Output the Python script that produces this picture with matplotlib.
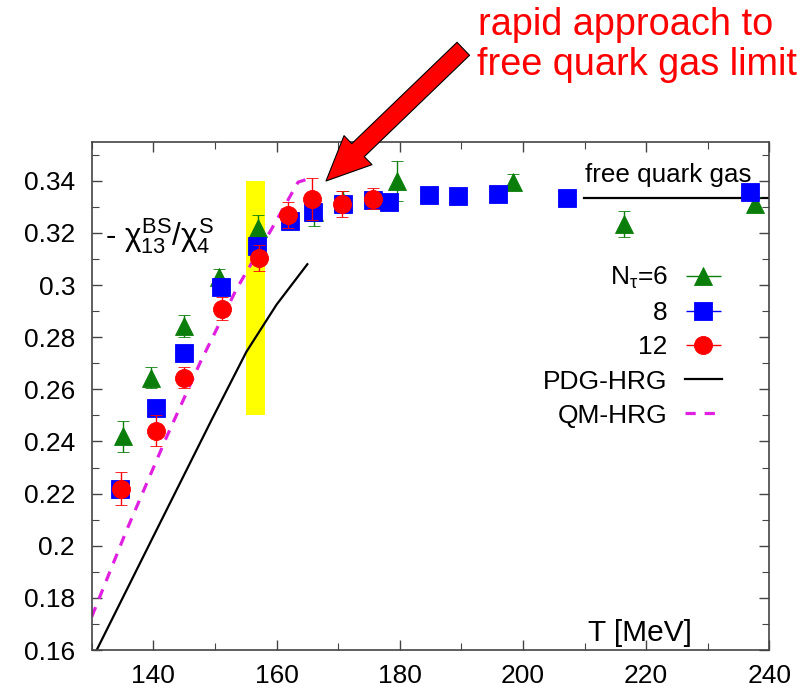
import matplotlib
matplotlib.use("Agg")
import matplotlib.pyplot as plt
from matplotlib.patches import FancyArrowPatch
from matplotlib.container import ErrorbarContainer
from matplotlib.legend_handler import HandlerErrorbar
from matplotlib.ticker import MultipleLocator

plt.rcParams["font.family"] = ["Liberation Sans", "DejaVu Sans"]
plt.rcParams["mathtext.fontset"] = "custom"
plt.rcParams["mathtext.rm"] = "Liberation Sans"
plt.rcParams["mathtext.it"] = "Liberation Sans"
plt.rcParams["mathtext.bf"] = "Liberation Sans:bold"

# N_tau = 6 (green triangles)
T6 = [135.1, 139.6, 145.0, 150.7, 157.0, 166.0, 170.8, 179.5, 198.4, 216.4, 237.7]
y6 = [0.242, 0.2645, 0.2844, 0.303, 0.322, 0.328, 0.332, 0.340, 0.3395, 0.3235, 0.3312]
e6 = [0.006, 0.004, 0.0043, 0.003, 0.005, 0.0055, 0.004, 0.0077, 0.003, 0.005, 0.0025]

# N_tau = 8 (blue squares)
T8 = [134.6, 140.5, 144.9, 150.9, 156.8, 162.2, 165.9, 170.8, 175.7, 178.3,
      184.7, 189.4, 195.9, 207.2, 236.9]
y8 = [0.2219, 0.253, 0.2738, 0.2991, 0.3151, 0.3245, 0.328, 0.3312, 0.3327, 0.3318,
      0.3347, 0.3343, 0.335, 0.3335, 0.3357]
e8 = [0.001] * len(T8)

# N_tau = 12 (red circles)
T12 = [134.75, 140.4, 145.0, 151.1, 157.1, 161.9, 165.8, 170.7, 175.7]
y12 = [0.2219, 0.2442, 0.2645, 0.291, 0.3104, 0.3269, 0.3331, 0.3312, 0.3331]
e12 = [0.0064, 0.006, 0.004, 0.0045, 0.005, 0.005, 0.008, 0.005, 0.004]

# HRG curves
pdg_T = [130.8, 140.0, 149.5, 155.1, 160.0, 165.0]
pdg_y = [0.16, 0.2036, 0.2485, 0.2744, 0.2925, 0.308]
qm_T = [130.0, 135.7, 142.2, 147.6, 153.5, 158.9, 163.5, 165.5]
qm_y = [0.1728, 0.2062, 0.242, 0.2703, 0.2985, 0.3203, 0.3395, 0.341]

# free quark gas limit and transition band
fqg_T = [209.9, 240.0]
fqg_val = 1.0 / 3.0
band_T = [155.0, 158.1]
band_y = [0.25, 0.34]

GREEN = "#0a7d0a"
BLUE = "#0000ff"
RED = "#ff0000"
MAGENTA = "#e020e0"

fig = plt.figure(figsize=(8.05, 6.94), dpi=100)
ax = fig.add_axes([0.114, 0.0634, 0.8417, 0.7324])

ax.fill_between(band_T, band_y[0], band_y[1], color="#ffff00", lw=0, zorder=1)
ax.plot(pdg_T, pdg_y, color="black", lw=1.6, zorder=2)
ax.plot(qm_T, qm_y, color=MAGENTA, lw=2.3, dashes=(3.2, 2.8), zorder=2)
ax.plot(fqg_T, [fqg_val, fqg_val], color="black", lw=1.6, zorder=2)

kw = dict(linestyle="none", capsize=4, elinewidth=1.0, capthick=1.0, markeredgewidth=0.6)
ax.errorbar(T6, y6, yerr=e6, marker="^", ms=13, color=GREEN, zorder=3, **kw)
ax.errorbar(T8, y8, yerr=e8, marker="s", ms=13, color=BLUE, zorder=4, **kw)
ax.errorbar(T12, y12, yerr=e12, marker="o", ms=13, color=RED, zorder=5, **kw)

ax.set_xlim(130, 240)
ax.set_ylim(0.16, 0.355)
ax.xaxis.set_major_locator(MultipleLocator(20))
ax.xaxis.set_minor_locator(MultipleLocator(10))
ax.yaxis.set_minor_locator(MultipleLocator(0.01))
ax.set_yticks([0.16, 0.18, 0.2, 0.22, 0.24, 0.26, 0.28, 0.3, 0.32, 0.34])
ax.set_yticklabels(["0.16", "0.18", "0.2", "0.22", "0.24", "0.26", "0.28", "0.3", "0.32", "0.34"])
ax.tick_params(which="both", direction="in", top=True, right=True, labelsize=19,
               color="#444444")
ax.tick_params(which="major", length=7, width=1)
ax.tick_params(which="minor", length=5, width=0.8)
ax.tick_params(axis="y", pad=12)
ax.tick_params(axis="x", pad=10)
for sp in ax.spines.values():
    sp.set_color("#444444")
    sp.set_linewidth(1.2)

ax.text(0.885, 0.017, "T [MeV]", transform=ax.transAxes, ha="right", va="baseline",
        fontsize=21.5)
ax.text(0.728, 0.921, "free quark gas", transform=ax.transAxes, ha="left",
        va="baseline", fontsize=18.7)
ax.text(0.02, 0.795, r"- $\chi_{13}^{BS}/\chi_4^{S}$", transform=ax.transAxes,
        ha="left", va="baseline", fontsize=22.5)

# legend proxies with horizontal error bars
h6 = ax.errorbar([], [], xerr=[], marker="^", ms=13, color=GREEN, **kw)
h8 = ax.errorbar([], [], xerr=[], marker="s", ms=13, color=BLUE, **kw)
h12 = ax.errorbar([], [], xerr=[], marker="o", ms=13, color=RED, **kw)
hp, = ax.plot([], [], color="black", lw=1.6)
hq, = ax.plot([], [], color=MAGENTA, lw=2.3, dashes=(3.2, 2.8))
ax.legend([h6, h8, h12, hp, hq], [r"N$_\tau$=6", "8", "12", "PDG-HRG", "QM-HRG"],
          loc="upper right", bbox_to_anchor=(0.93, 0.757), frameon=False,
          markerfirst=False, fontsize=19, handlelength=1.4, handletextpad=0.65,
          labelspacing=0.38, borderpad=0, borderaxespad=0,
          handler_map={ErrorbarContainer: HandlerErrorbar(xerr_size=0.67)})

# annotation
fig.text(0.594, 1 - 35 / 694, "rapid approach to", color=RED, fontsize=27.3,
         ha="left", va="baseline")
fig.text(0.593, 1 - 75 / 694, "free quark gas limit", color=RED, fontsize=27.3,
         ha="left", va="baseline")
arrow = FancyArrowPatch((463.3 / 805, 1 - 48.8 / 694), (326 / 805, 1 - 181 / 694),
                        transform=fig.transFigure,
                        arrowstyle="simple,head_length=32,head_width=29,tail_width=13",
                        mutation_scale=1, shrinkA=0, shrinkB=0,
                        facecolor=RED, edgecolor="black", lw=0.8, zorder=10)
fig.patches.append(arrow)

fig.savefig("out.png", dpi=100)
